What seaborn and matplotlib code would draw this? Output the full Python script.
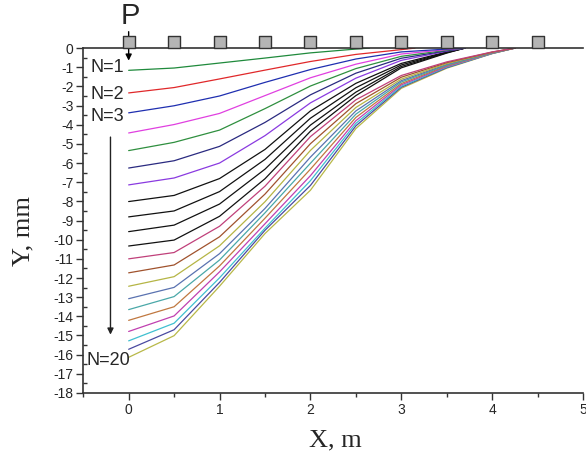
import matplotlib
matplotlib.use("Agg")
import matplotlib.pyplot as plt
import pandas as pd
import seaborn as sns
from matplotlib.ticker import MultipleLocator

# ---------------------------------------------------------------------------
# Data
# ---------------------------------------------------------------------------
X_GRID = [0.0, 0.5, 1.0, 1.5, 2.0, 2.5, 3.0, 3.5, 4.0]

# deflection Y (mm) at X_GRID points, one list per curve (N=1 ... N=20)
DEFLECTIONS = [
    [-1.16, -1.04, -0.78, -0.52, -0.25, -0.05],
    [-2.34, -2.06, -1.61, -1.15, -0.70, -0.33, -0.08],
    [-3.38, -3.01, -2.50, -1.79, -1.12, -0.57, -0.20, -0.05],
    [-4.43, -3.99, -3.41, -2.48, -1.55, -0.84, -0.31, -0.08],
    [-5.35, -4.92, -4.28, -3.16, -1.98, -1.07, -0.43, -0.11],
    [-6.26, -5.88, -5.13, -3.88, -2.44, -1.31, -0.53, -0.14],
    [-7.14, -6.78, -6.00, -4.57, -2.86, -1.57, -0.64, -0.16],
    [-8.01, -7.69, -6.81, -5.29, -3.28, -1.84, -0.80, -0.20],
    [-8.81, -8.50, -7.49, -5.81, -3.66, -2.07, -0.88, -0.22],
    [-9.58, -9.24, -8.14, -6.32, -4.02, -2.30, -0.96, -0.24],
    [-10.33, -10.02, -8.78, -6.82, -4.34, -2.48, -1.03, -0.26],
    [-11.00, -10.67, -9.30, -7.21, -4.62, -2.70, -1.43, -0.72, -0.20],
    [-11.73, -11.32, -9.85, -7.62, -4.99, -2.90, -1.52, -0.76, -0.21],
    [-12.43, -11.93, -10.32, -8.02, -5.34, -3.10, -1.62, -0.81, -0.22],
    [-13.08, -12.49, -10.73, -8.37, -5.69, -3.28, -1.70, -0.85, -0.24],
    [-13.65, -12.97, -11.06, -8.60, -6.01, -3.45, -1.77, -0.89, -0.25],
    [-14.21, -13.50, -11.37, -8.88, -6.32, -3.62, -1.85, -0.92, -0.26],
    [-14.79, -13.98, -11.68, -9.17, -6.66, -3.79, -1.92, -0.96, -0.27],
    [-15.28, -14.36, -11.99, -9.40, -6.92, -3.93, -1.99, -0.99, -0.28],
    [-15.72, -14.70, -12.23, -9.51, -7.17, -4.06, -2.04, -1.02, -0.28],
    [-16.14, -15.01, -12.43, -9.68, -7.42, -4.20, -2.10, -1.05, -0.29],
]
# X where each curve returns to zero
END_X = [2.65, 3.15, 3.7, 3.7, 3.7, 3.7, 3.7, 3.7, 3.7, 3.7, 3.7,
         4.25, 4.25, 4.25, 4.25, 4.25, 4.25, 4.25, 4.25, 4.25, 4.25]

COLORS = ["#1f8a3c", "#e0282a", "#1f2fb0", "#e040e0", "#2f8f3f", "#2a2a80",
          "#8a3ae0", "#111111", "#111111", "#111111", "#111111", "#c0407a",
          "#a0522d", "#b5b545", "#5a72b0", "#4aa8a8", "#c07840", "#c040b0",
          "#40c0d0", "#4a4aa0", "#b8b848"]

SLEEPER_X = [0.0, 0.5, 1.0, 1.5, 2.0, 2.5, 3.0, 3.5, 4.0, 4.5]
SLEEPER_Y = [0.31] * len(SLEEPER_X)

N_LABELS = ["N=1", "N=2", "N=3"]
N_LABEL_Y = [-1.02, -2.4, -3.55]

# ---------------------------------------------------------------------------
# Build long table
# ---------------------------------------------------------------------------
rows = []
for i, ys in enumerate(DEFLECTIONS):
    xs = X_GRID[:len(ys)] + [END_X[i]]
    for x, y in zip(xs, ys + [0.0]):
        rows.append({"curve": i, "x": x, "y": y})
df = pd.DataFrame(rows)

sns.set_theme(style="ticks")
plt.rcParams["font.family"] = ["Liberation Sans", "DejaVu Sans"]
plt.rcParams["axes.unicode_minus"] = False

fig = plt.figure(figsize=(5.86, 4.58), dpi=100)
ax = fig.add_axes([0.142, 0.142, 0.853, 0.753])

# draw N=20 first so the upper coloured curves sit on top
order = list(range(len(DEFLECTIONS)))[::-1]
sns.lineplot(data=df, x="x", y="y", hue="curve", hue_order=order,
             palette=dict(enumerate(COLORS)), legend=False, linewidth=0.9,
             estimator=None, sort=False, ax=ax)

# sleepers on top of the rail line
sns.scatterplot(x=SLEEPER_X, y=SLEEPER_Y, marker="s", s=75, color="#b4b4b4",
                edgecolor="#333333", linewidth=1.0, ax=ax, clip_on=False,
                zorder=5)

ax.set_xlim(-0.5, 5)
ax.set_ylim(-18, 0)
ax.xaxis.set_major_locator(MultipleLocator(1))
ax.xaxis.set_minor_locator(MultipleLocator(0.5))
ax.yaxis.set_major_locator(MultipleLocator(1))
ax.yaxis.set_minor_locator(MultipleLocator(0.5))
ax.tick_params(axis="both", which="major", direction="out", length=5,
               width=1, color="#333333", labelsize=10, pad=2)
ax.tick_params(axis="y", which="minor", direction="in", length=3, width=1,
               color="#333333")
ax.tick_params(axis="x", which="minor", direction="out", length=3, width=1,
               color="#333333")

for side in ["left", "bottom", "top"]:
    ax.spines[side].set_color("#333333")
    ax.spines[side].set_linewidth(1.2)
ax.spines["right"].set_visible(False)

ax.set_xlabel("X, m", fontsize=19, family="Liberation Serif")
ax.set_ylabel("Y, mm", fontsize=19, family="Liberation Serif")
ax.xaxis.set_label_coords(0.504, -0.106)
ax.yaxis.set_label_coords(-0.098, 0.47)

# load P
ax.text(0.02, 1.7, "P", fontsize=21, ha="center", va="center")
ax.annotate("", xy=(0, -0.8), xytext=(0, 1.0), annotation_clip=False,
            arrowprops=dict(arrowstyle="-|>", color="black", lw=1,
                            mutation_scale=9))

for lab, yy in zip(N_LABELS, N_LABEL_Y):
    ax.text(-0.05, yy, lab, fontsize=13, ha="right", va="center")
ax.text(-0.22, -16.28, "N=20", fontsize=13, ha="center", va="center")
ax.annotate("", xy=(-0.2, -15.1), xytext=(-0.2, -4.5),
            arrowprops=dict(arrowstyle="-|>", color="#222222", lw=1,
                            mutation_scale=9))

fig.savefig("out.png", dpi=100)
